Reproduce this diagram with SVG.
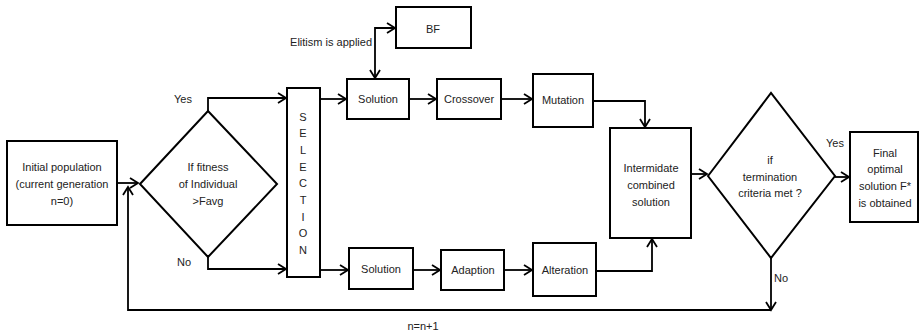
<svg xmlns="http://www.w3.org/2000/svg" width="920" height="333" viewBox="0 0 920 333">
<defs>
<marker id="arr" markerUnits="userSpaceOnUse" markerWidth="14" markerHeight="14" viewBox="-10 -7 12 14" refX="0" refY="0" orient="auto">
<path d="M-8,-5 L0,0 L-8,5" fill="none" stroke="#000" stroke-width="1.8"/>
</marker>
</defs>
<style>
.box{fill:#fff;stroke:#000;stroke-width:2}
.t{font-family:"Liberation Sans",Arial,sans-serif;font-size:11px;fill:#222;text-anchor:middle}
.l{font-family:"Liberation Sans",Arial,sans-serif;font-size:11px;fill:#222}
.c{fill:none;stroke:#000;stroke-width:1.8}
.a{marker-end:url(#arr)}
</style>
<rect width="920" height="333" fill="#fff"/>
<g id="connectors">
<path class="c a" d="M117,183 L138,183"/>
<path class="c a" d="M208,111 L208,98 L286,98"/>
<path class="c a" d="M208,257 L208,269 L286,269"/>
<path class="c a" d="M320,99 L346,99"/>
<path class="c a" d="M320,270 L348,270"/>
<path class="c a" d="M375,46 L375,78"/>
<path class="c a" d="M375,46 L375,28 L395,28"/>
<path class="c a" d="M409,99 L436,99"/>
<path class="c a" d="M501,99 L532,99"/>
<path class="c a" d="M413,270 L440,270"/>
<path class="c a" d="M504,270 L532,270"/>
<path class="c a" d="M593,101 L645,101 L645,127"/>
<path class="c a" d="M596,271 L652,271 L652,239"/>
<path class="c a" d="M691,174 L707,174"/>
<path class="c a" d="M835,177 L849,177"/>
<path class="c a" d="M771,258 L771,310"/>
<path class="c a" d="M771,310 L128,310 L128,187"/>
</g>
<g id="initial">
<rect class="box" x="7" y="141" width="110" height="84"/>
<text class="t" x="62" y="171">Initial population</text>
<text class="t" x="62" y="188">(current generation</text>
<text class="t" x="62" y="205">n=0)</text>
</g>
<g id="fitness">
<polygon class="box" points="140,184 208,111 277,184 208,257"/>
<text class="t" x="208" y="171">If fitness</text>
<text class="t" x="208" y="188">of Individual</text>
<text class="t" x="208" y="205">&gt;Favg</text>
</g>
<g id="labels">
<text class="t" x="183" y="103">Yes</text>
<text class="t" x="184" y="266">No</text>
<text class="l" x="372" y="46" text-anchor="end">Elitism is applied</text>
<text class="t" x="835" y="147">Yes</text>
<text class="t" x="781" y="282">No</text>
<text class="t" x="423" y="330">n=n+1</text>
</g>
<g id="selection">
<rect class="box" x="287" y="88" width="33" height="189"/>
<text class="t" x="303" y="121">S</text>
<text class="t" x="303" y="137">E</text>
<text class="t" x="303" y="154">L</text>
<text class="t" x="303" y="171">E</text>
<text class="t" x="303" y="187">C</text>
<text class="t" x="303" y="204">T</text>
<text class="t" x="303" y="221">I</text>
<text class="t" x="303" y="237">O</text>
<text class="t" x="303" y="254">N</text>
</g>
<g id="bf">
<rect class="box" x="396" y="7" width="75" height="41"/>
<text class="t" x="433" y="33">BF</text>
</g>
<g id="solution1">
<rect class="box" x="347" y="79" width="62" height="40"/>
<text class="t" x="378" y="103">Solution</text>
</g>
<g id="crossover">
<rect class="box" x="437" y="79" width="64" height="40"/>
<text class="t" x="469" y="103">Crossover</text>
</g>
<g id="mutation">
<rect class="box" x="533" y="74" width="60" height="53"/>
<text class="t" x="563" y="104">Mutation</text>
</g>
<g id="solution2">
<rect class="box" x="349" y="248" width="64" height="41"/>
<text class="t" x="381" y="273">Solution</text>
</g>
<g id="adaption">
<rect class="box" x="441" y="250" width="63" height="40"/>
<text class="t" x="473" y="274">Adaption</text>
</g>
<g id="alteration">
<rect class="box" x="533" y="243" width="63" height="53"/>
<text class="t" x="565" y="274">Alteration</text>
</g>
<g id="intermediate">
<rect class="box" x="610" y="128" width="81" height="110"/>
<text class="t" x="651" y="172">Intermidate</text>
<text class="t" x="651" y="189">combined</text>
<text class="t" x="651" y="206">solution</text>
</g>
<g id="termination">
<polygon class="box" points="708,176 771,93 835,176 771,258"/>
<text class="t" x="770" y="164">if</text>
<text class="t" x="770" y="181">termination</text>
<text class="t" x="770" y="197">criteria met ?</text>
</g>
<g id="final">
<rect class="box" x="850" y="132" width="68" height="90"/>
<text class="t" x="885" y="157">Final</text>
<text class="t" x="885" y="173">optimal</text>
<text class="t" x="885" y="190">solution F*</text>
<text class="t" x="885" y="207">is obtained</text>
</g>
</svg>
